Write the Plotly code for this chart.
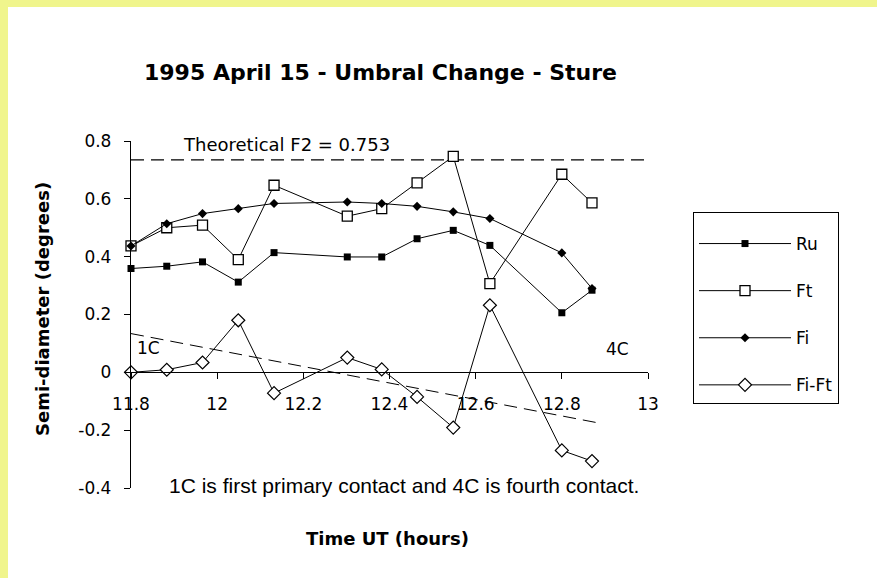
import plotly.graph_objects as go

# ---- data ----
time_ut = [11.8, 11.883, 11.966, 12.049, 12.132, 12.302, 12.382, 12.464, 12.548, 12.633, 12.8, 12.87]
ru = [0.359, 0.367, 0.382, 0.312, 0.414, 0.399, 0.399, 0.462, 0.491, 0.439, 0.206, 0.284]
ft = [0.437, 0.500, 0.509, 0.390, 0.647, 0.540, 0.566, 0.655, 0.747, 0.307, 0.685, 0.586]
fi = [0.437, 0.514, 0.549, 0.566, 0.584, 0.589, 0.584, 0.574, 0.555, 0.532, 0.413, 0.290]
fi_ft = [0.000, 0.009, 0.034, 0.180, -0.072, 0.051, 0.010, -0.085, -0.191, 0.232, -0.270, -0.307]

trend_x = [11.8, 12.885]
trend_y = [0.134, -0.175]

f2_x = [11.8, 13.0]
f2_y = [0.735, 0.735]

x_tickvals = [11.8, 12.0, 12.2, 12.4, 12.6, 12.8, 13.0]
x_ticktext = ["11.8", "12", "12.2", "12.4", "12.6", "12.8", "13"]
y_tickvals = [-0.4, -0.2, 0.0, 0.2, 0.4, 0.6, 0.8]
y_ticktext = ["-0.4", "-0.2", "0", "0.2", "0.4", "0.6", "0.8"]

# ---- layout geometry (pixels; the page body margin is removed so figure px == page px) ----
PAGE_W, PAGE_H = 877, 578
W, H = PAGE_W + 23, PAGE_H + 22  # slightly larger than the window so no page background shows
L, R, T, B = 131, 648, 141, 488  # plot area


def px(x):
    return (x - L) / (R - L)


def py(y):
    return (B - y) / (B - T)


BLACK = "#000000"
YEL = "#F0F58C"
TICKFONT = dict(family="DejaVu Sans", size=17, color=BLACK)

fig = go.Figure()

fig.add_trace(go.Scatter(x=f2_x, y=f2_y, mode="lines", showlegend=False,
                         line=dict(color=BLACK, width=1.2, dash="13px,7px"), hoverinfo="skip"))
fig.add_trace(go.Scatter(x=trend_x, y=trend_y, mode="lines", showlegend=False,
                         line=dict(color=BLACK, width=1, dash="13px,7px"), hoverinfo="skip"))

fig.add_trace(go.Scatter(x=time_ut, y=ru, name="Ru", mode="lines+markers", legendgroup="a",
                         line=dict(color=BLACK, width=1),
                         marker=dict(symbol="square", size=7, color=BLACK)))
fig.add_trace(go.Scatter(x=time_ut, y=ft, name="Ft", mode="lines+markers", legendgroup="b",
                         line=dict(color=BLACK, width=1),
                         marker=dict(symbol="square", size=10, color="white",
                                     line=dict(color=BLACK, width=1.3))))
fig.add_trace(go.Scatter(x=time_ut, y=fi, name="Fi", mode="lines+markers", legendgroup="c",
                         line=dict(color=BLACK, width=1),
                         marker=dict(symbol="diamond", size=7, color=BLACK)))
fig.add_trace(go.Scatter(x=time_ut, y=fi_ft, name="Fi-Ft", mode="lines+markers", legendgroup="d",
                         line=dict(color=BLACK, width=1),
                         marker=dict(symbol="diamond", size=10, color="white",
                                     line=dict(color=BLACK, width=1.2))))

fig.update_traces(cliponaxis=False, selector=dict(type="scatter"))

ann = []
ann.append(dict(text="<b>1995 April 15 - Umbral Change - Sture</b>", x=px(380), y=py(72),
                font=dict(family="DejaVu Sans", size=22, color=BLACK)))
ann.append(dict(text="<b>Time UT (hours)</b>", x=px(387), y=py(538),
                font=dict(family="DejaVu Sans", size=18, color=BLACK)))
ann.append(dict(text="<b>Semi-diameter (degrees)</b>", x=px(42), y=py(309), textangle=-90,
                font=dict(family="DejaVu Sans", size=18, color=BLACK)))
ann.append(dict(text="Theoretical F2 = 0.753", x=px(286), y=py(144),
                font=dict(family="DejaVu Sans", size=18, color=BLACK)))
ann.append(dict(text="1C", x=px(148), y=py(348),
                font=dict(family="DejaVu Sans", size=17, color=BLACK)))
ann.append(dict(text="4C", x=px(617), y=py(349),
                font=dict(family="DejaVu Sans", size=17, color=BLACK)))
ann.append(dict(text="1C is first primary contact and 4C is fourth contact.", x=px(404), y=py(485),
                font=dict(family="Liberation Sans", size=21, color=BLACK)))
for a in ann:
    a.update(xref="paper", yref="paper", showarrow=False, xanchor="center", yanchor="middle")

shapes = [
    dict(type="rect", xref="paper", yref="paper", x0=px(0), x1=px(W), y0=py(7), y1=py(0),
         fillcolor=YEL, line=dict(width=0), layer="below"),
    dict(type="rect", xref="paper", yref="paper", x0=px(0), x1=px(8), y0=py(H), y1=py(0),
         fillcolor=YEL, line=dict(width=0), layer="below"),
]

fig.update_layout(
    width=W, height=H,
    margin=dict(l=L, r=W - R, t=T, b=H - B, pad=0),
    paper_bgcolor="white", plot_bgcolor="white",
    showlegend=True,
    legend=dict(x=px(693), y=py(212), xanchor="left", yanchor="top",
                bordercolor=BLACK, borderwidth=1, bgcolor="white",
                font=dict(family="DejaVu Sans", size=17, color=BLACK),
                title=dict(text=" ", font=dict(size=10)),
                tracegroupgap=22, itemwidth=92),
    annotations=ann,
    shapes=shapes,
    xaxis=dict(range=[11.8, 13.0], anchor="free", position=py(372), showgrid=False, zeroline=False,
               showline=True, linecolor=BLACK, linewidth=1.3, ticks="outside", ticklen=6,
               tickwidth=1.3, tickcolor=BLACK, tickvals=x_tickvals, ticktext=x_ticktext,
               tickfont=TICKFONT, ticklabelstandoff=10),
    yaxis=dict(range=[-0.4, 0.8], showgrid=False, zeroline=False,
               showline=True, linecolor=BLACK, linewidth=1.3, ticks="outside", ticklen=6,
               tickwidth=1.3, tickcolor=BLACK, tickvals=y_tickvals, ticktext=y_ticktext,
               tickfont=TICKFONT, ticklabelstandoff=9),
    xaxis2=dict(range=[11.8, 13.0], overlaying="x", anchor="free", position=py(372),
                showgrid=False, zeroline=False, showline=False, ticks="inside", ticklen=6,
                tickwidth=1.3, tickcolor=BLACK, tickvals=x_tickvals, showticklabels=False),
    yaxis2=dict(range=[-0.4, 0.8], overlaying="y", anchor="free", position=0, side="left",
                showgrid=False, zeroline=False, showline=False, ticks="inside", ticklen=6,
                tickwidth=1.3, tickcolor=BLACK, tickvals=y_tickvals, showticklabels=False),
)

fig.write_html("out.html",
               config=dict(displayModeBar=False),
               post_script="document.body.style.margin='0';document.body.style.overflow='hidden';"
                           "document.documentElement.style.overflow='hidden';")
